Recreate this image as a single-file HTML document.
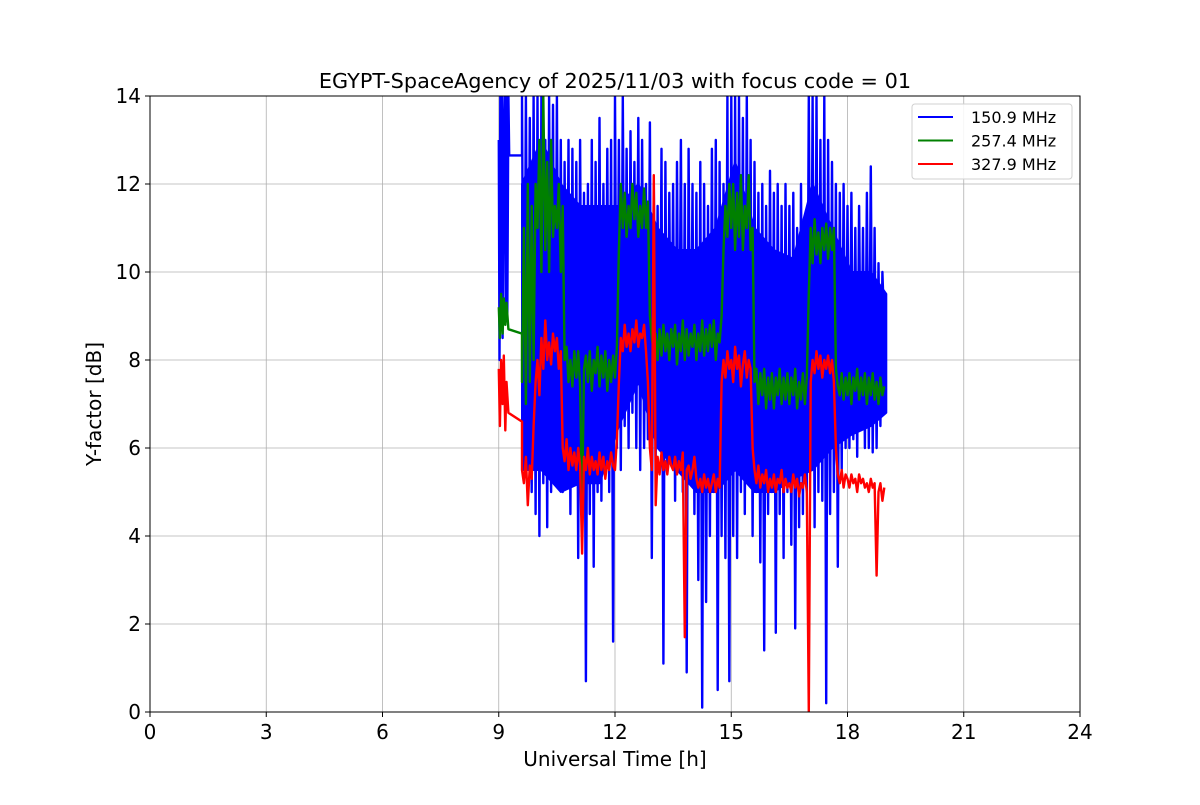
<!DOCTYPE html>
<html><head><meta charset="utf-8"><style>
body{margin:0;background:#fff;}
svg text{font-family:"DejaVu Sans","Liberation Sans",sans-serif;}
</style></head><body>
<svg id="chart" width="1200" height="800"></svg>
<script>
const xTicks=[0,3,6,9,12,15,18,21,24];
const yTicks=[0,2,4,6,8,10,12,14];
const seriesNames=["150.9 MHz","257.4 MHz","327.9 MHz"];
const seriesColors=["#0000ff","#008000","#ff0000"];
const denseStart=9.6, denseStep=0.05;
const blueHead=[[9.0,13],[9.02,8],[9.04,14],[9.06,9],[9.08,14],[9.1,8.5],[9.12,12.6],[9.15,14],[9.18,9],[9.2,14],[9.22,9],[9.25,14],[9.27,12.65],[9.6,12.65]];
const greenHead=[[9.0,9.2],[9.03,8.5],[9.06,9.5],[9.1,8.6],[9.13,9.4],[9.17,8.8],[9.2,9.3],[9.25,8.7],[9.6,8.6]];
const redHead=[[9.0,7.8],[9.03,6.5],[9.06,8],[9.1,7],[9.13,8.1],[9.17,6.4],[9.2,7.5],[9.25,6.8],[9.6,6.6]];
const blueBandTimes=[9.6,10.1,10.6,11.1,11.6,12.1,12.6,13.1,13.6,14.1,14.6,15.1,15.6,16.1,16.6,17.1,17.6,18.1,18.6,19.0];
const blueBandUpper=[12,13,12,11.5,11.5,11.5,12,11,10.5,10.5,11,12.5,11,10.5,10.3,12,11,10,10,9.5];
const blueBandLower=[5.5,5.5,5,5.2,5.2,6.5,7.5,6,5.5,5,5,5.5,5,5,5.3,5.5,6,6.3,6.5,6.8];
const blueValues=[14,5.5,14,6,13.5,5,14,4.5,
14,4,14,5.2,13,4.2,14,5,13.8,5.5,
14,6,13,5,12.5,6,13,4.5,12.8,5.5,
12.5,3.5,13,5,11.8,0.7,12,4.5,13,3.3,
12.5,5,13.5,4.8,12,5.5,12.8,5,13,1.6,
14,6,13,5.5,14,6.5,12.8,6,13.2,6.8,
12.5,6,13.5,5.5,13,6,12,6.2,13.4,3.5,
12,5.8,11.5,6,12.8,1.1,12.5,5.5,11.8,6,
12,4.8,12.5,6,13,5,12,0.9,12.8,5.5,
12,4.5,11.8,3,12.5,0.1,12,2.5,11.5,4,
12.8,5,13,0.5,12.5,4,12,3.5,14,0.7,
14,4,14,3.5,14,5,13.5,4.5,14,5.5,
13,4,12.5,5,11.8,3.4,12,1.4,11.5,4.5,
12.3,5,11.8,1.8,12,4.5,11.5,3.5,12,5,
11.5,3.8,11.8,1.9,11,4.2,12,4.5,11.2,5,
14,5.5,14,4.2,14,5,13,4.8,14,0.2,
13,4.5,12.5,5,12,3.3,11.8,5.5,12,6,
11.5,6,11.8,6.2,11,5.8,11.5,6.5,11,6,
11.8,6,12.4,5.9,11,6,10.2,6.5,10,8.7];
const greenValues=[7.5,11,7,12,7.5,11.5,8,12,
11,13,10,14,10.5,12.5,10,13,10.8,11.5,
11,12,10,11.5,8,8.3,7.5,8,7.4,8.2,
7.6,8.2,7.4,4.6,7.8,8.1,7.5,8.2,7.3,8,
7.7,8.3,7.4,8.1,7.6,8.2,7.3,8,7.5,8.1,
7.6,8.3,10.5,12,11,11.8,10.8,11.5,11,12,
11.2,11.8,10.8,11.5,11,11.9,11,11.6,9,8.5,
8.2,8.6,8,8.7,8.1,8.8,8.2,8.6,8,8.7,
8.3,8.8,7.9,8.6,8.2,8.9,8,8.7,8.1,8.6,
8.3,8.8,8,8.6,8.2,8.9,8.1,8.7,8.2,8.8,
8.3,8.9,8,8.6,8.4,9,10.5,11.5,10.8,12,
11,12,10.5,11.8,10.8,12.2,10.5,11.5,11,12.2,
10.5,11,7.5,7.8,7,7.7,7.2,7.8,6.9,7.6,
7.1,7.7,6.9,7.6,7.2,7.8,7,7.6,7.1,7.7,
7,7.6,7.2,7.8,6.9,7.5,7.1,7.7,7,7.6,
9.5,11,10.2,11.2,10.4,10.9,10.2,11,10.5,11.1,
10.3,11,10.5,11,7.8,7.4,7.2,7.7,7.1,7.6,
7.2,7.7,7,7.6,7.3,7.8,7.1,7.6,7.2,7.7,
7,7.6,7.2,7.7,7.1,7.5,7,7.6,7.2,7.4];
const redValues=[5.5,5.2,5.8,4.7,5.6,5.3,6.5,7.5,
8,7.2,8.5,7.8,8.9,8,8.4,7.9,8.6,8.2,
8.5,7.8,8.2,6,5.7,6.2,5.5,6,5.6,5.9,
5.5,6,5.6,3.6,5.8,5.5,6,5.4,5.8,5.5,
5.7,5.4,5.9,5.5,5.8,5.3,5.7,5.5,5.9,5.6,
5.5,6.2,7.5,8.5,8.2,8.8,8.3,8.6,8.2,8.7,
8.4,8.9,8.3,8.6,8.5,8.8,8.2,7.5,6,5.5,
12.2,4.7,5.8,5.4,5.9,5.5,5.7,5.4,5.8,5.6,
5.5,5.8,5.4,5.7,5.5,5.9,1.7,5.5,5.6,5.3,
5.5,5.8,5.3,5.1,5.3,5,5.4,5.1,5.3,5,
5.2,5.4,5,5.3,5.1,7.5,8,7.6,8.2,7.8,
8,7.5,8.3,7.8,8.1,7.4,7.9,8.2,7.6,8,
7.8,6,5.5,5.2,5.6,5.1,5.4,5.2,5.5,5,
5.3,5.1,5.4,5,5.3,5.2,5.5,5,5.3,5.1,
5.2,5,5.4,5.1,5.3,4.9,5.2,5.1,5.4,5,
0,7.5,8,7.7,8.2,7.8,8.1,7.6,8,7.8,
8.1,7.7,8,7.5,6,5.4,5.2,5.5,5.1,5.4,
5.3,5.1,5.4,5.2,5.3,5,5.4,5.2,5.3,5.1,
5.2,5,5.3,5.1,5.2,3.1,5,5.2,4.8,5.1];

const NS="http://www.w3.org/2000/svg";
const svg=document.getElementById('chart');
const L=150,R=1080,T=96,B=712;
const xs=v=>L+(v-0)/24*(R-L);
const ys=v=>B-(v-0)/14*(B-T);
function mk(tag,attrs,parent){const e=document.createElementNS(NS,tag);for(const k in attrs)e.setAttribute(k,attrs[k]);(parent||svg).appendChild(e);return e;}

const grid=mk('g',{});


xTicks.forEach(t=>{mk('line',{x1:xs(t),x2:xs(t),y1:T,y2:B,stroke:'#b0b0b0','stroke-width':0.8},grid);});
yTicks.forEach(t=>{mk('line',{x1:L,x2:R,y1:ys(t),y2:ys(t),stroke:'#b0b0b0','stroke-width':0.8},grid);});

const clip=mk('clipPath',{id:'pc'});mk('rect',{x:L,y:T,width:R-L,height:B-T},clip);

const bandPts=blueBandTimes.map((t,i)=>xs(t).toFixed(1)+','+ys(blueBandUpper[i]).toFixed(1))
  .concat(blueBandTimes.map((t,i)=>xs(t).toFixed(1)+','+ys(blueBandLower[i]).toFixed(1)).reverse());
const band=mk('polygon',{points:bandPts.join(' '),fill:'#0000ff',stroke:'#0000ff','stroke-width':2,'stroke-linejoin':'round','clip-path':'url(#pc)'});



const heads=[blueHead,greenHead,redHead];
const dense=[blueValues,greenValues,redValues];
const sNames=['series-150-9-mhz','series-257-4-mhz','series-327-9-mhz'];
const widths=[2.4,2.4,2.4];
dense.forEach((vals,si)=>{
  const pts=heads[si].map(p=>xs(p[0]).toFixed(1)+','+ys(p[1]).toFixed(1));
  vals.forEach((v,i)=>pts.push(xs(denseStart+i*denseStep).toFixed(1)+','+ys(v).toFixed(1)));
  const pl=mk('polyline',{points:pts.join(' '),fill:'none',stroke:seriesColors[si],'stroke-width':widths[si],'stroke-linejoin':'round','clip-path':'url(#pc)'});
  
  
});

const frame=mk('rect',{x:L,y:T,width:R-L,height:B-T,fill:'none',stroke:'#000','stroke-width':1});



xTicks.forEach(t=>{
  mk('line',{x1:xs(t),x2:xs(t),y1:B,y2:B+5,stroke:'#000'});
  const tx=mk('text',{x:xs(t),y:B+27,'text-anchor':'middle','font-size':20});tx.textContent=t;
  
  
});
yTicks.forEach(t=>{
  mk('line',{x1:L-5,x2:L,y1:ys(t),y2:ys(t),stroke:'#000'});
  const tx=mk('text',{x:L-9,y:ys(t)+7,'text-anchor':'end','font-size':20});tx.textContent=t;
  
  
});

const title=mk('text',{x:615,y:88,'text-anchor':'middle','font-size':20.8});title.textContent='EGYPT-SpaceAgency of 2025/11/03 with focus code = 01';


const xl=mk('text',{x:615,y:766,'text-anchor':'middle','font-size':20});xl.textContent='Universal Time [h]';


const yl=mk('text',{x:0,y:0,'text-anchor':'middle','font-size':20,transform:'translate(101,404) rotate(-90)'});yl.textContent='Y-factor [dB]';



const lg=mk('g',{});


mk('rect',{x:912,y:104,width:160,height:75,rx:3,fill:'#fff','fill-opacity':0.85,stroke:'#d0d0d0'},lg);
seriesNames.forEach((n,i)=>{
  const y=117+i*23.5;
  mk('line',{x1:918,x2:953,y1:y,y2:y,stroke:seriesColors[i],'stroke-width':2},lg);
  const t=mk('text',{x:971,y:y+6,'font-size':16},lg);t.textContent=n;
  
  
});
</script>
</body></html>
